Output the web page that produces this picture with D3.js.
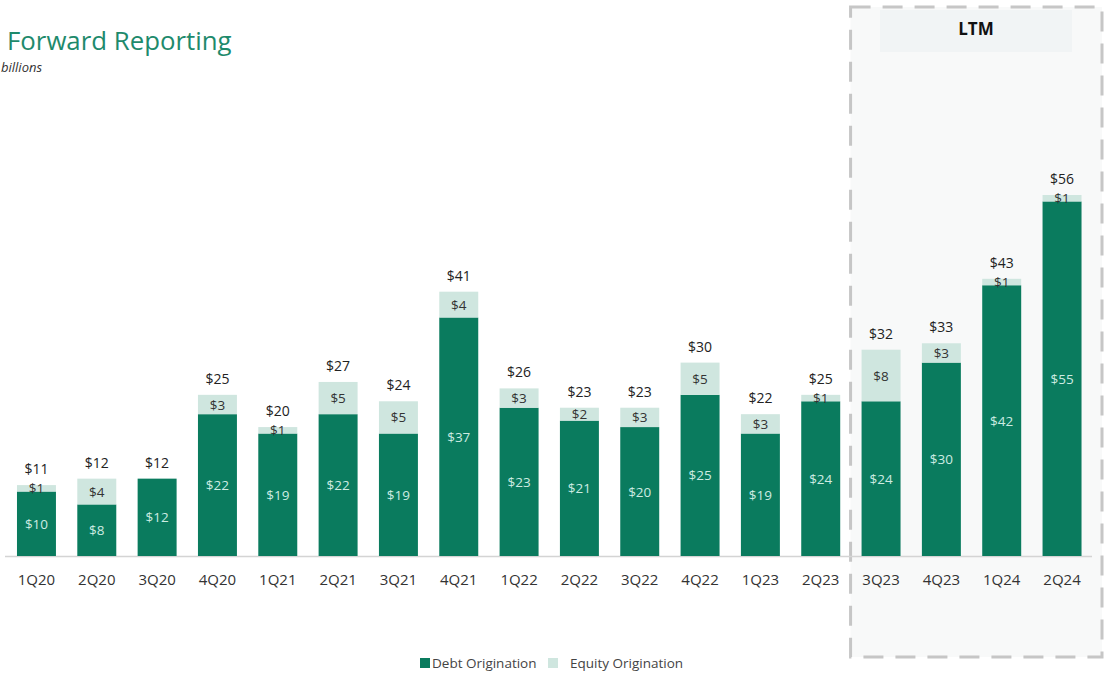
<!DOCTYPE html>
<html><head><meta charset="utf-8">
<script src="https://cdn.jsdelivr.net/npm/d3@7"></script>
<style>
html,body{margin:0;padding:0;background:#fff;}
svg{display:block;font-family:"Open Sans","Noto Sans",sans-serif;}
</style></head>
<body><svg id="c" width="1108" height="677"></svg>
<script>
const categories = ["1Q20","2Q20","3Q20","4Q20","1Q21","2Q21","3Q21","4Q21","1Q22","2Q22","3Q22","4Q22","1Q23","2Q23","3Q23","4Q23","1Q24","2Q24"];
const debt   = [10,8,12,22,19,22,19,37,23,21,20,25,19,24,24,30,42,55];
const equity = [1,4,0,3,1,5,5,4,3,2,3,5,3,1,8,3,1,1];
const totals = [11,12,12,25,20,27,24,41,26,23,23,30,22,25,32,33,43,56];
const ltmCategories = ["3Q23","4Q23","1Q24","2Q24"];
const seriesNames = ["Debt Origination","Equity Origination"];

const svg = d3.select("#c");
const colDebt = "#0a7b5e", colEq = "#cfe6df";
const baseY = 556;

const x = d3.scaleBand().domain(categories).range([6.3,1092.2]).paddingInner(0.354).paddingOuter(0.177);
const y = d3.scaleLinear().domain([0,56]).range([baseY, baseY - 361]);

// LTM box
const lx0 = x(ltmCategories[0]) - 11, lx1 = 1102;
svg.append("rect").attr("x", lx0).attr("y", 7).attr("width", lx1 - lx0).attr("height", 650)
  .attr("fill", "#f8f9f9").attr("stroke", "#c6c6c6").attr("stroke-width", 3).attr("stroke-dasharray", "20,12");
svg.append("rect").attr("x", 880).attr("y", 10).attr("width", 192).attr("height", 42).attr("fill", "#f1f4f5");
svg.append("text").attr("x", 976).attr("y", 35).attr("text-anchor","middle")
  .attr("font-size", 17).attr("font-weight", "bold").attr("fill", "#111").text("LTM");

// Title
svg.append("text").attr("x", 7).attr("y", 50).attr("font-size", 25.8).attr("fill", "#1e8a6c").text("Forward Reporting");
svg.append("text").attr("x", 1).attr("y", 72).attr("font-size", 13).attr("font-style","italic").attr("fill","#333").text("billions");

// baseline
svg.append("line").attr("x1", 5).attr("x2", 1092).attr("y1", baseY + 0.5).attr("y2", baseY + 0.5)
  .attr("stroke", "#d4d4d4").attr("stroke-width", 1.5);

const data = categories.map((c,i) => ({c, d: debt[i], e: equity[i], t: totals[i]}));
const g = svg.append("g");
const bw = x.bandwidth();

g.selectAll(".debt").data(data).join("rect")
  .attr("x", d => x(d.c)).attr("width", bw)
  .attr("y", d => y(d.d)).attr("height", d => y(0) - y(d.d)).attr("fill", colDebt);
g.selectAll(".eq").data(data.filter(d => d.e > 0)).join("rect")
  .attr("x", d => x(d.c)).attr("width", bw)
  .attr("y", d => y(d.d + d.e)).attr("height", d => y(d.d) - y(d.d + d.e)).attr("fill", colEq);

// labels
g.selectAll(".dl").data(data).join("text")
  .attr("x", d => x(d.c) + bw/2).attr("y", d => (y(0) + y(d.d))/2 + 5)
  .attr("text-anchor","middle").attr("font-size", 13.5).attr("fill", "#cdece2").text(d => "$" + d.d);
g.selectAll(".el").data(data.filter(d => d.e > 0)).join("text")
  .attr("x", d => x(d.c) + bw/2).attr("y", d => (y(d.d) + y(d.d + d.e))/2 + 5)
  .attr("text-anchor","middle").attr("font-size", 13.5).attr("fill", "#333").text(d => "$" + d.e);
g.selectAll(".tl").data(data).join("text")
  .attr("x", d => x(d.c) + bw/2).attr("y", d => y(d.d + d.e) - 11)
  .attr("text-anchor","middle").attr("font-size", 14).attr("fill", "#222").text(d => "$" + d.t);

// x axis labels
g.selectAll(".xl").data(categories).join("text")
  .attr("x", c => x(c) + bw/2).attr("y", 585)
  .attr("text-anchor","middle").attr("font-size", 15).attr("fill", "#333").text(c => c);

// legend
const leg = svg.append("g");
const lpos = [420, 548], tpos = [432, 570];
seriesNames.forEach((n,i) => {
  leg.append("rect").attr("x", lpos[i]).attr("y", 658).attr("width", 10).attr("height", 10).attr("fill", i ? colEq : colDebt);
  leg.append("text").attr("x", tpos[i]).attr("y", 668).attr("font-size", 13.5).attr("fill", "#444").text(n);
});
</script></body></html>
